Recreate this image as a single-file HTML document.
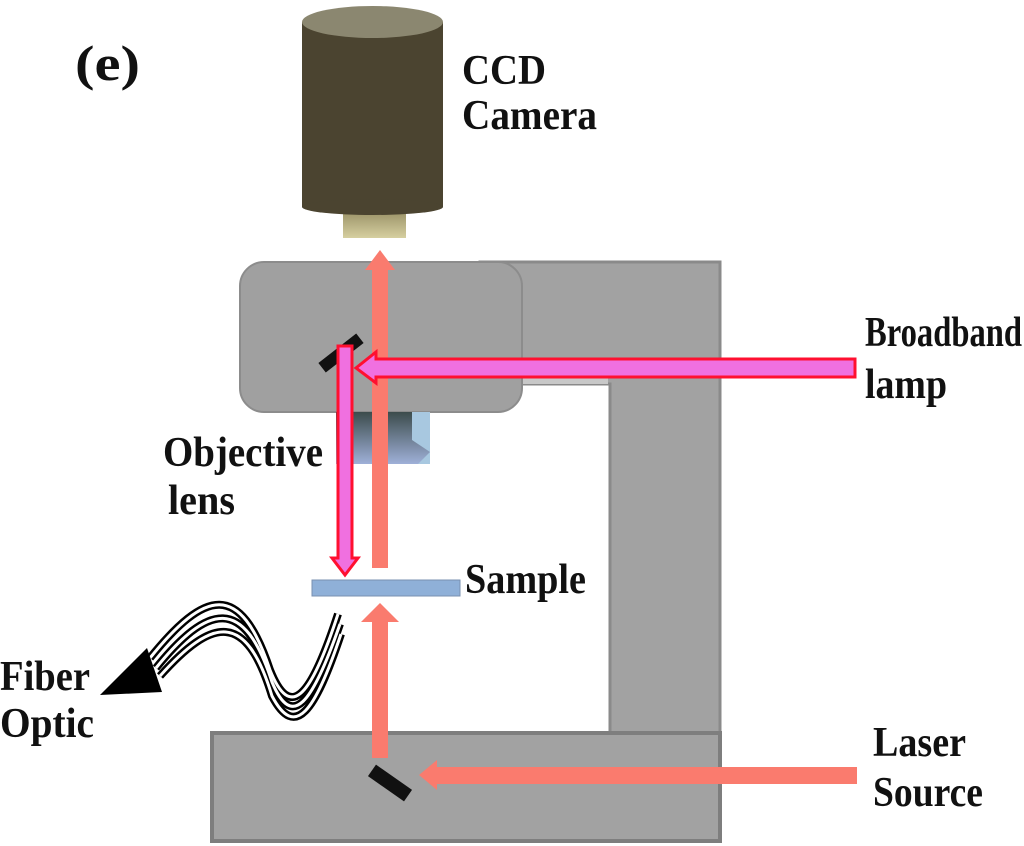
<!DOCTYPE html>
<html><head><meta charset="utf-8"><style>
html,body{margin:0;padding:0;background:#fff;width:1024px;height:846px;overflow:hidden}
text{font-family:"Liberation Serif","Times New Roman",serif;font-weight:bold;fill:#111}
</style></head><body>
<svg width="1024" height="846" viewBox="0 0 1024 846" xmlns="http://www.w3.org/2000/svg">
<defs>
<linearGradient id="lens" x1="0" y1="0" x2="0" y2="1">
<stop offset="0" stop-color="#3c4c4c"/><stop offset="1" stop-color="#9fb0d8"/></linearGradient>
<linearGradient id="noz" x1="0" y1="0" x2="0" y2="1">
<stop offset="0" stop-color="#8c845a"/><stop offset="1" stop-color="#d6cfa0"/></linearGradient>
</defs>
<!-- frame -->
<path d="M480,262 L720,262 L720,742 L610,742 L610,384 L480,384 Z" fill="#a2a2a2" stroke="#8a8a8a" stroke-width="3"/>
<rect x="500" y="374" width="108" height="10" fill="#c8c8c8"/>
<rect x="212" y="733" width="508" height="108" fill="#a2a2a2" stroke="#7e7e7e" stroke-width="4"/>
<!-- head -->
<rect x="240" y="262" width="282" height="150" rx="24" fill="#a0a0a0" stroke="#8c8c8c" stroke-width="2"/>
<!-- lens -->
<rect x="336" y="412" width="94" height="52" fill="url(#lens)"/>
<polygon points="412,412 430,412 430,464 418,464 430,452 412,440" fill="#a8c8e0"/>
<!-- camera -->
<rect x="343" y="205" width="63" height="33" fill="url(#noz)"/>
<rect x="302" y="22" width="141" height="185" fill="#4b4430"/>
<ellipse cx="372.5" cy="207" rx="70.5" ry="8" fill="#4b4430"/>
<ellipse cx="372.5" cy="22" rx="70.5" ry="16" fill="#8b8770"/>
<!-- sample -->
<rect x="312" y="580" width="148" height="16" fill="#8fb0d8" stroke="#7a90b0" stroke-width="1"/>
<!-- salmon up arrow (top) -->
<rect x="372" y="268" width="16" height="300" fill="#fa7b6e"/>
<polygon points="380,250 365,270 395,270" fill="#fa7b6e"/>
<!-- lower laser -->
<rect x="372" y="620" width="16" height="138" fill="#fa7b6e"/>
<polygon points="380,603 361,622 399,622" fill="#fa7b6e"/>
<rect x="436" y="767" width="421" height="17" fill="#fa7b6e"/>
<polygon points="419,775 437,760 437,790" fill="#fa7b6e"/>
<rect x="368" y="776" width="44" height="14" fill="#111" transform="rotate(35 390 783)"/>
<!-- top mirror -->
<rect x="317" y="347" width="48" height="12" fill="#111" transform="rotate(-38 341 353)"/>
<!-- broadband arrow -->
<path d="M855,359 L376,359 L376,352 L356,368 L376,383 L376,377 L855,377 Z" fill="#f070e0" stroke="#ff1030" stroke-width="3"/>
<!-- down arrow -->
<path d="M338,346 L352,346 L352,558 L358,558 L345,575 L332,558 L338,558 Z" fill="#f070e0" stroke="#ff1030" stroke-width="3"/>
<!-- fiber -->
<g fill="none" stroke="#000" stroke-width="8">
<path d="M338,614 C310,700 290,720 270,670 C240,580 205,590 150,658"/>
<path d="M340,624 C312,705 292,730 272,682 C244,595 208,604 156,668"/>
<path d="M341,634 C315,712 295,740 272,696 C246,610 212,618 160,676"/>
</g>
<g fill="none" stroke="#fff" stroke-width="3">
<path d="M338,614 C310,700 290,720 270,670 C240,580 205,590 150,658"/>
<path d="M340,624 C312,705 292,730 272,682 C244,595 208,604 156,668"/>
<path d="M341,634 C315,712 295,740 272,696 C246,610 212,618 160,676"/>
</g>
<polygon points="100,695 147,648 162,692" fill="#000"/>
<!-- labels -->
<text x="75" y="80" font-size="50" textLength="65" lengthAdjust="spacingAndGlyphs">(e)</text>
<text x="462" y="84" font-size="42" textLength="84" lengthAdjust="spacingAndGlyphs">CCD</text>
<text x="462" y="129" font-size="42" textLength="135" lengthAdjust="spacingAndGlyphs">Camera</text>
<text x="865" y="346" font-size="42" textLength="157" lengthAdjust="spacingAndGlyphs">Broadband</text>
<text x="865" y="398" font-size="42" textLength="82" lengthAdjust="spacingAndGlyphs">lamp</text>
<text x="163" y="466" font-size="42" textLength="160" lengthAdjust="spacingAndGlyphs">Objective</text>
<text x="168" y="514" font-size="42" textLength="67" lengthAdjust="spacingAndGlyphs">lens</text>
<text x="465" y="593" font-size="42" textLength="121" lengthAdjust="spacingAndGlyphs">Sample</text>
<text x="0" y="690" font-size="42" textLength="90" lengthAdjust="spacingAndGlyphs">Fiber</text>
<text x="0" y="737" font-size="42" textLength="94" lengthAdjust="spacingAndGlyphs">Optic</text>
<text x="873" y="756" font-size="42" textLength="93" lengthAdjust="spacingAndGlyphs">Laser</text>
<text x="873" y="806" font-size="42" textLength="110" lengthAdjust="spacingAndGlyphs">Source</text>
</svg>
</body></html>
